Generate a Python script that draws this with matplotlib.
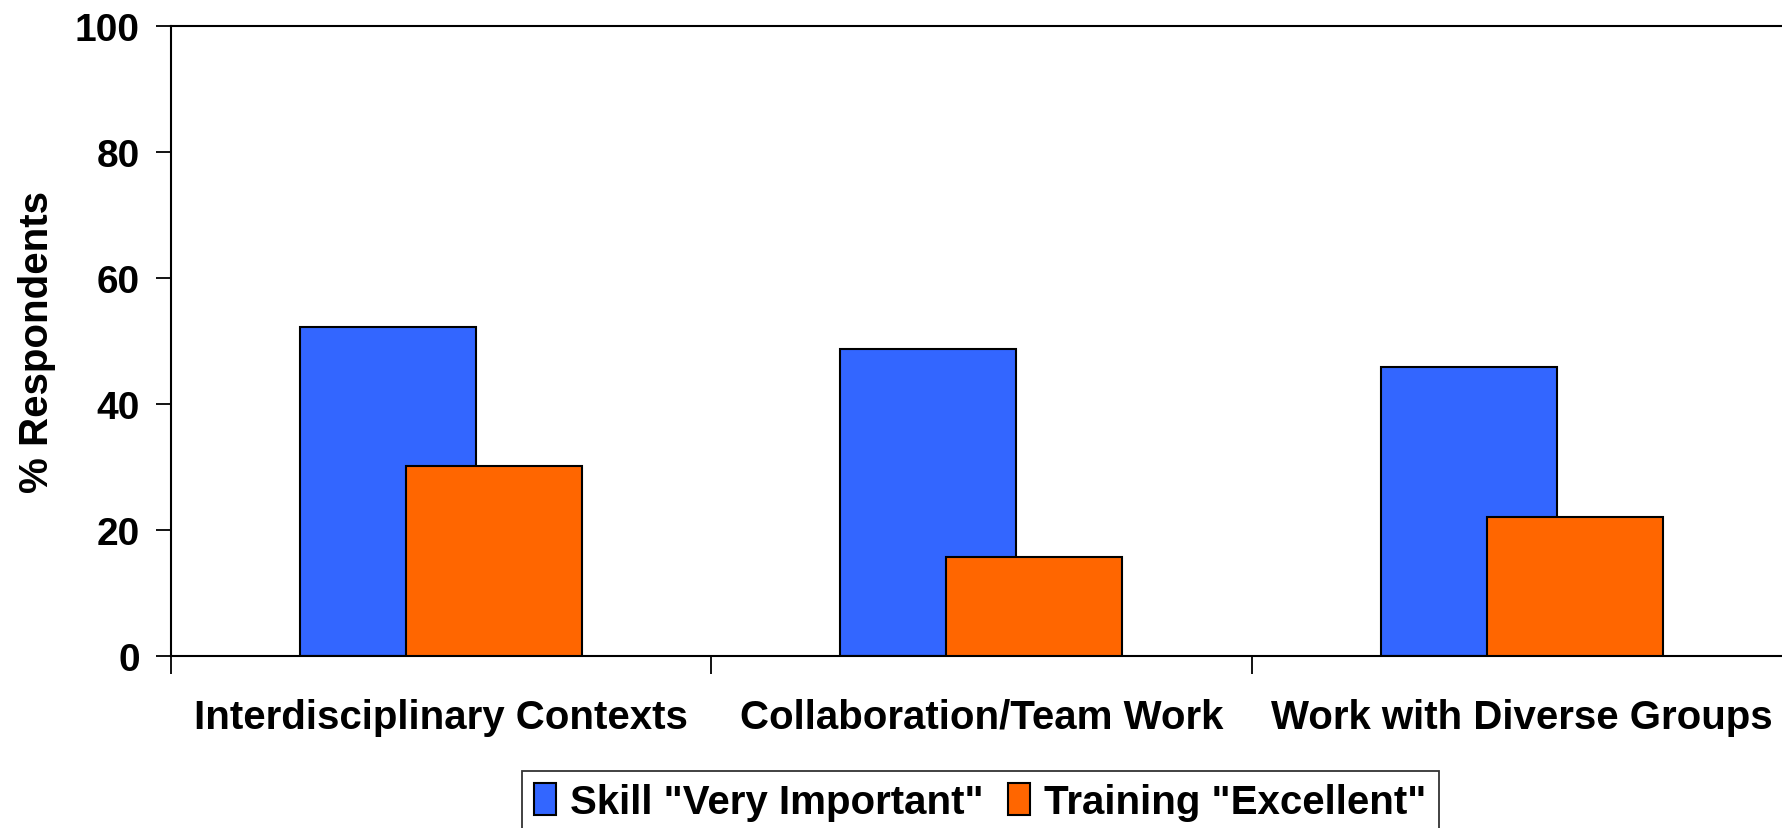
import numpy as np
from matplotlib import pyplot as plt

categories = ["Interdisciplinary Contexts", "Collaboration/Team Work", "Work with Diverse Groups"]
skill_very_important = [52.2, 48.8, 45.9]
training_excellent = [30.1, 15.8, 22.0]
series_labels = ['Skill "Very Important"', 'Training "Excellent"']
y_ticks = [0, 20, 40, 60, 80, 100]

plt.rcParams["font.family"] = ["Liberation Sans", "DejaVu Sans"]
plt.rcParams["font.weight"] = "bold"

fig = plt.figure(figsize=(17.82, 8.29), dpi=100)
ax = fig.add_axes([0.0957, 0.2075, 0.91, 0.7595])

x = np.arange(len(categories))
width = 0.326
offset = 0.098
ax.bar(x - offset, skill_very_important, width, color="#3366FF", edgecolor="black",
       linewidth=1.5, label=series_labels[0], zorder=2)
ax.bar(x + offset, training_excellent, width, color="#FF6600", edgecolor="black",
       linewidth=1.5, label=series_labels[1], zorder=3)

ax.set_xlim(-0.5, 2.5)
ax.set_ylim(0, 100)
ax.set_yticks(y_ticks)
ax.tick_params(axis="y", length=11, width=1.3, labelsize=28, pad=11)

# category labels at centres, tick marks at the boundaries
ax.set_xticks(x)
ax.set_xticklabels(categories, fontsize=29, fontweight="bold")
ax.tick_params(axis="x", which="major", length=0, pad=30)
ax.set_xticks(np.arange(len(categories) + 1) - 0.5, minor=True)
ax.tick_params(axis="x", which="minor", length=13, width=1.3)

for s in ax.spines.values():
    s.set_linewidth(1.5)

ax.set_ylabel("% Respondents", fontsize=29, fontweight="bold", labelpad=14)

leg = fig.legend(loc="upper center", bbox_to_anchor=(0.55, 0.069), ncol=2,
                 fontsize=29, frameon=True, fancybox=False, edgecolor="black",
                 handlelength=0.55, handleheight=0.85, handletextpad=0.35,
                 columnspacing=0.6, borderpad=0.3, borderaxespad=0)
leg.get_frame().set_linewidth(1.3)
for t in leg.get_texts():
    t.set_fontweight("bold")

fig.savefig("out.png", dpi=100)
